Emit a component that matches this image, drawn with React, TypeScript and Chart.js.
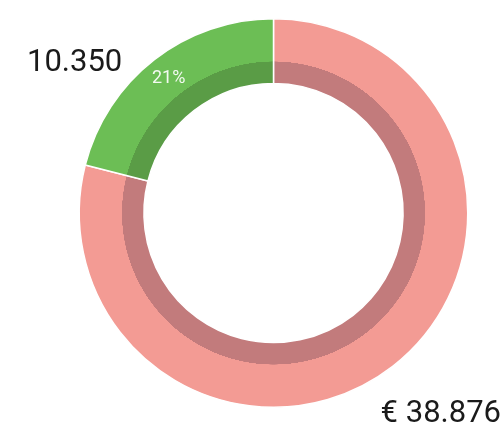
import React, { useEffect, useRef } from "react";
import { Chart, registerables } from "chart.js";

Chart.register(...registerables);

const categories = ["Rest", "Deel"];
const values = [38876, 10350];
const brightColors = ["#f39b94", "#6cbe55"];
const darkColors = ["#c27b7c", "#5a9c46"];
const totalLabel = "€ 38.876";
const partLabel = "10.350";
const FONT = "Roboto, 'Noto Sans', sans-serif";

export default function App() {
  const ref = useRef<HTMLCanvasElement | null>(null);

  useEffect(() => {
    if (!ref.current) return;
    const bandFrac = 22 / 65;

    const bg = (c: any) => {
      const i = c.dataIndex ?? 0;
      const chart = c.chart;
      const meta = chart.getDatasetMeta(0);
      const ctrl: any = meta.controller;
      const ca = chart.chartArea;
      if (!ca || !ctrl || !ctrl.outerRadius) return brightColors[i];
      const cx = (ca.left + ca.right) / 2 + (ctrl.offsetX || 0);
      const cy = (ca.top + ca.bottom) / 2 + (ctrl.offsetY || 0);
      const g = chart.ctx.createRadialGradient(cx, cy, ctrl.innerRadius, cx, cy, ctrl.outerRadius);
      g.addColorStop(0, darkColors[i]);
      g.addColorStop(bandFrac, darkColors[i]);
      g.addColorStop(bandFrac + 0.002, brightColors[i]);
      g.addColorStop(1, brightColors[i]);
      return g;
    };

    const labelPlugin = {
      id: "labels",
      afterDatasetsDraw(chart: any) {
        const ctx = chart.ctx;
        const meta = chart.getDatasetMeta(0);
        const total = values.reduce((a, b) => a + b, 0);
        ctx.save();
        const arc: any = meta.data[1];
        if (arc) {
          const p = arc.getProps(["x", "y", "startAngle", "endAngle", "innerRadius", "outerRadius"], true);
          const mid = (p.startAngle + p.endAngle) / 2;
          const bandOuter = p.innerRadius + (p.outerRadius - p.innerRadius) * bandFrac;
          const r = (bandOuter + p.outerRadius) / 2 - 2;
          const pct = Math.round((values[1] / total) * 100) + "%";
          ctx.fillStyle = "rgba(255,255,255,0.92)";
          ctx.font = `18px ${FONT}`;
          ctx.textAlign = "center";
          ctx.textBaseline = "middle";
          ctx.fillText(pct, p.x + Math.cos(mid) * r, p.y + Math.sin(mid) * r);
        }
        ctx.fillStyle = "#1a1a1a";
        ctx.font = `31px ${FONT}`;
        ctx.textBaseline = "alphabetic";
        ctx.textAlign = "left";
        ctx.fillText(partLabel, 27, 71);
        ctx.textAlign = "right";
        ctx.fillText(totalLabel, 501, 422);
        ctx.restore();
      },
    };

    const chart = new Chart(ref.current, {
      type: "doughnut",
      data: {
        labels: categories,
        datasets: [
          {
            data: values,
            backgroundColor: bg as any,
            borderColor: "#ffffff",
            borderWidth: 1.5,
          },
        ],
      },
      options: {
        animation: false,
        responsive: false,
        cutout: "66.7%",
        layout: { padding: { top: 18, bottom: 17, left: 78.5, right: 35.5 } },
        plugins: { legend: { display: false }, tooltip: { enabled: false } },
      },
      plugins: [labelPlugin],
    });
    return () => chart.destroy();
  }, []);

  return (
    <div style={{ position: "absolute", left: 0, top: 0, width: 504, height: 425, background: "#fff" }}>
      <canvas ref={ref} width={504} height={425} style={{ width: 504, height: 425, display: "block" }} />
    </div>
  );
}
